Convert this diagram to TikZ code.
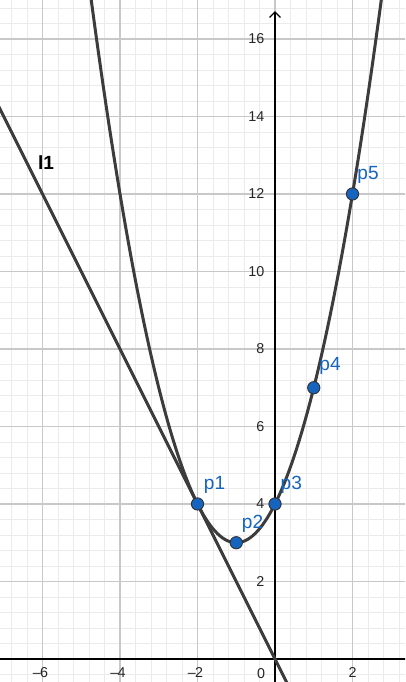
\documentclass[tikz,border=0pt]{standalone}
\usepackage{fontspec}
\setmainfont{Liberation Sans}
\usetikzlibrary{arrows.meta}
\definecolor{gblue}{HTML}{1565C0}
\definecolor{curvecol}{HTML}{3C3C3C}
\definecolor{minorcol}{HTML}{EBEBEB}
\definecolor{majorcol}{HTML}{C8C8C8}
\begin{document}
\begin{tikzpicture}[x=1cm,y=1cm,
  minorgrid/.style={draw=minorcol,line width=0.5pt},
  majorgrid/.style={draw=majorcol,line width=0.8pt},
  axisline/.style={draw=black,line width=0.9pt},
  curveline/.style={draw=curvecol,line width=2.2pt},
  ticklab/.style={font=\fontsize{10.5pt}{12pt}\selectfont,inner sep=0pt,text=black!85},
  pt/.style={circle,fill=gblue,draw=black!80,line width=0.7pt,minimum size=9pt,inner sep=0pt},
  ptlab/.style={font=\fontsize{14pt}{16pt}\selectfont,text=gblue,inner sep=0pt}]
\useasboundingbox (-7.097,-0.594) rectangle (3.355,17.006);
\clip (-7.097,-0.594) rectangle (3.355,17.006);
\fill[white] (-7.2,-0.7) rectangle (3.5,17.1);
\draw[minorgrid] (-7.2,-0.8) grid[step=0.4] (3.6,17.2);
\draw[majorgrid] (-7.2,-0.8) grid[step=2] (3.6,17.2);
% axes
\coordinate (xl) at (-7.2,0);
\coordinate (xr) at (3.6,0);
\coordinate (yb) at (0,-0.8);
\coordinate (yt) at (0,16.72);
\draw[axisline] (xl) -- (xr);
\draw[axisline,-{Straight Barb[length=4pt,width=8pt]}] (yb) -- (yt);
% tick labels
\foreach \x in {-6,-4,-2} {\node[ticklab] (tx\x) at (\x-0.05,-0.36) {$\textrm{--}$\kern-0.5pt\the\numexpr-\x\relax};}
\node[ticklab] (tx2) at (2,-0.36) {2};
\node[ticklab] (tx0) at (-0.36,-0.38) {0};
\foreach \y in {2,4,...,16} {\node[ticklab,anchor=east] (ty\y) at (-0.27,\y) {\y};}
% curves
\draw[curveline] plot[domain=-4.8:2.8,samples=120] (\x,{\x*\x+2*\x+4});
\draw[curveline] (-7.2,14.4) -- (0.4,-0.8);
% points
\node[pt] (p1) at (-2,4) {};
\node[pt] (p2) at (-1,3) {};
\node[pt] (p3) at (0,4) {};
\node[pt] (p4) at (1,7) {};
\node[pt] (p5) at (2,12) {};
\node[ptlab] (lp1) at (-1.56,4.5) {p1};
\node[ptlab] (lp2) at (-0.58,3.5) {p2};
\node[ptlab] (lp3) at (0.42,4.5) {p3};
\node[ptlab] (lp4) at (1.42,7.55) {p4};
\node[ptlab] (lp5) at (2.4,12.5) {p5};
\node[font=\bfseries\fontsize{14pt}{16pt}\selectfont,inner sep=0pt] (l1) at (-5.91,12.8) {l1};
\end{tikzpicture}
\end{document}
